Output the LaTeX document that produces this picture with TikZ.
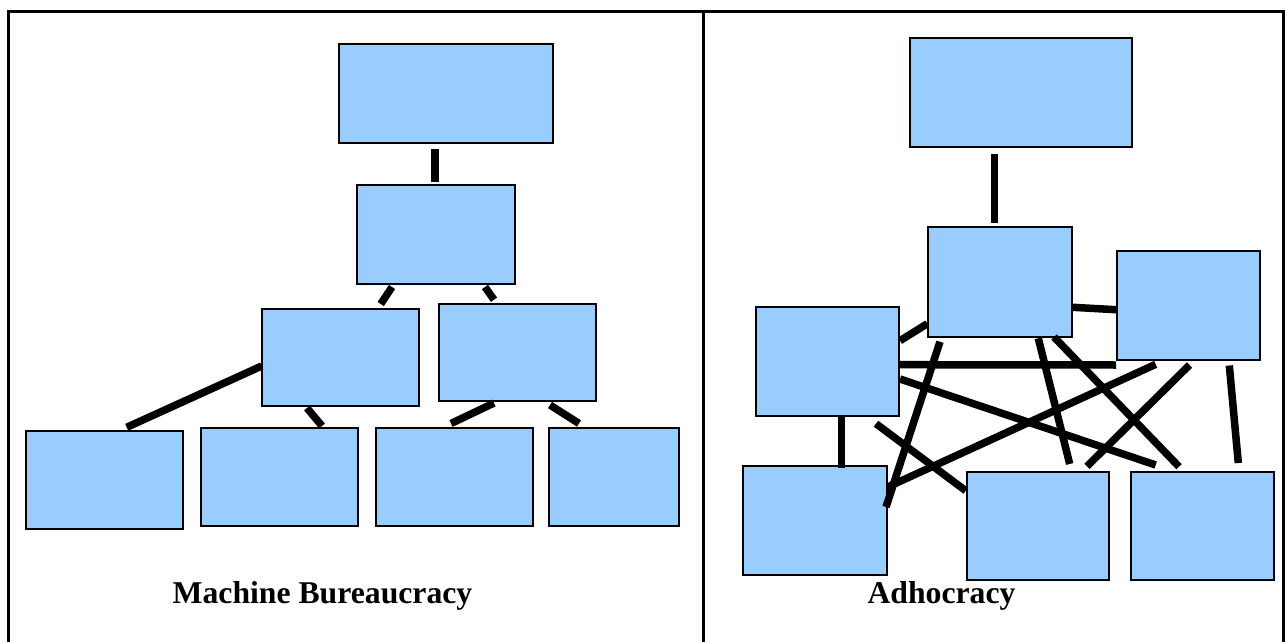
\documentclass[tikz,border=0pt]{standalone}
\usepackage{fontspec}
\setmainfont{Liberation Serif}
\usetikzlibrary{calc}
\definecolor{boxblue}{HTML}{99CCFF}
\begin{document}
\begin{tikzpicture}[x=1pt,y=-1pt,
  unitbox/.style={draw=black, fill=boxblue, line width=2pt, inner sep=0pt},
  conn/.style={line width=7.5pt, black},
  frameline/.style={line width=3pt, black},
  caption/.style={font=\fontsize{31.7}{38}\selectfont\bfseries, anchor=base, inner sep=0pt}]
\useasboundingbox (0,0) rectangle (1285,642);
% frame
\draw[frameline] (8,642) -- (8,11.5) -- (1283.5,11.5) -- (1283.5,642);
\draw[frameline] (703.5,11.5) -- (703.5,642);
% ---------- Machine Bureaucracy ----------
\node[unitbox, minimum width=214pt, minimum height=99pt] (LT) at (446,93.5) {};
\node[unitbox, minimum width=157.5pt, minimum height=98.5pt] (LS) at (435.75,234.25) {};
\node[unitbox, minimum width=157pt, minimum height=97.5pt] (LL) at (340.5,357.25) {};
\node[unitbox, minimum width=157pt, minimum height=97.5pt] (LR) at (517.5,352.25) {};
\node[unitbox, minimum width=157.5pt, minimum height=98pt] (B1) at (104.25,480) {};
\node[unitbox, minimum width=157.4pt, minimum height=98pt] (B2) at (279.3,477) {};
\node[unitbox, minimum width=157pt, minimum height=98pt] (B3) at (454.5,477) {};
\node[unitbox, minimum width=130.5pt, minimum height=98pt] (B4) at (613.75,477) {};
\draw[conn] ($(LT.south)+(-11,5)$) -- ($(LS.north)+(-0.75,-2.5)$);
\draw[conn] ($(LS.south west)+(36,2.5)$) -- ($(LL.north west)+(119.7,-3.5)$);
\draw[conn] ($(LS.south east)+(-30.5,2.5)$) -- ($(LR.north west)+(56,-2.8)$);
\draw[conn] ($(LL.west)+(0.7,8.75)$) -- ($(B1.north)+(22.5,-2.7)$);
\draw[conn] ($(LL.south west)+(46,1)$) -- ($(B2.north west)+(122.4,-1)$);
\draw[conn] ($(LR.south west)+(56,1)$) -- ($(B3.north west)+(76,-3.5)$);
\draw[conn] ($(LR.south east)+(-47,3)$) -- ($(B4.north west)+(31.5,-3.5)$);
\node[caption] (capL) at (322.5,603) {Machine Bureaucracy};
% ---------- Adhocracy ----------
\node[unitbox, minimum width=222pt, minimum height=109pt] (RT) at (1021,92.8) {};
\node[unitbox, minimum width=143.4pt, minimum height=109.4pt] (RC) at (1000,282) {};
\node[unitbox, minimum width=143.3pt, minimum height=109pt] (RR) at (1188.65,305.5) {};
\node[unitbox, minimum width=143pt, minimum height=109pt] (RL) at (827.5,361.5) {};
\node[unitbox, minimum width=144pt, minimum height=109pt] (RBL) at (815,520.5) {};
\node[unitbox, minimum width=142.6pt, minimum height=108pt] (RBM) at (1038,526) {};
\node[unitbox, minimum width=143.3pt, minimum height=108pt] (RBR) at (1202.35,526) {};
\draw[conn] ($(RT.south)+(-26.7,5.7)$) -- ($(RC.north)+(-5.7,-3.3)$);
\draw[conn] ($(RL.north east)+(0,34.7)$) -- ($(RC.south west)+(0,-14)$);
\draw[conn] ($(RC.north east)+(0,81)$) -- ($(RR.north west)+(0,59.7)$);
\draw[conn] ($(RL.north east)+(0,58.7)$) -- ($(RR.south west)+(0,4)$);
\draw[conn] ($(RL.north east)+(0,73)$) -- ($(RBR.north west)+(26,-6)$);
\draw[conn] ($(RC.south west)+(12.7,4)$) -- ($(RBL.north east)+(-2,42)$);
\draw[conn] ($(RR.south west)+(39.7,3.3)$) -- ($(RBL.north east)+(-0.3,22)$);
\draw[conn] ($(RC.south east)+(-34.4,0.6)$) -- ($(RBM.north west)+(104,-7)$);
\draw[conn] ($(RC.south east)+(-18.7,-0.7)$) -- ($(RBR.north west)+(49.3,-4.3)$);
\draw[conn] ($(RR.south west)+(73.5,4)$) -- ($(RBM.north east)+(-23.3,-4.7)$);
\draw[conn] ($(RR.south east)+(-32,4.5)$) -- ($(RBR.north east)+(-36.7,-8)$);
\draw[conn] ($(RL.south)+(14.2,0)$) -- ($(RBL.north)+(26.7,3)$);
\draw[conn] ($(RL.south east)+(-24,6.7)$) -- ($(RBM.north west)+(0,19.7)$);
\node[caption] (capR) at (941.5,603) {Adhocracy};
\end{tikzpicture}
\end{document}
